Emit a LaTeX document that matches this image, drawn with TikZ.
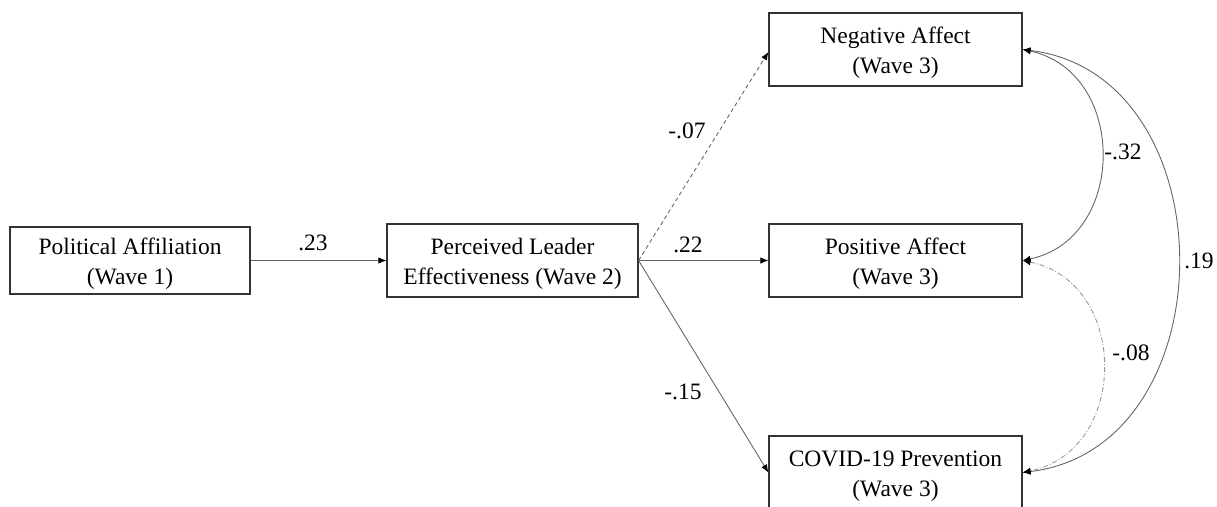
\documentclass[tikz,border=0pt]{standalone}
\usepackage{fontspec}
\setmainfont{Liberation Serif}
\usetikzlibrary{arrows.meta,calc}
\begin{document}
\begin{tikzpicture}[x=1pt,y=-1pt,
  box/.style={draw=black!80,line width=1.2pt,minimum width=253pt,minimum height=73pt,inner sep=0pt,align=center,text height=52pt,text depth=5pt,font=\fontsize{23.5}{30}\selectfont},
  lbl/.style={font=\fontsize{23.5}{28}\selectfont,inner sep=0pt},
  tip/.style={-{Latex[length=8pt,width=6.5pt,color=black]}},
  pathline/.style={draw=black!60,line width=0.9pt,tip},
  cov/.style={draw=black!60,line width=0.9pt,{Latex[length=8pt,width=6.5pt,color=black]}-{Latex[length=8pt,width=6.5pt,color=black]}},
]
\useasboundingbox (0,0) rectangle (1217,506);
\clip (0,0) rectangle (1217,506);
% nodes
\node[box,minimum width=240pt,minimum height=67pt] (pol) at (130,260.5) {Political Affiliation\\(Wave 1)};
\node[box,minimum width=251pt] (ple) at (512.5,260.5) {Perceived Leader\\Effectiveness (Wave 2)};
\node[box] (neg) at (895.5,49.5) {Negative Affect\\(Wave 3)};
\node[box] (pos) at (895.5,260.5) {Positive Affect\\(Wave 3)};
\node[box] (cov19) at (895.5,472.5) {COVID-19 Prevention\\(Wave 3)};
% paths
\draw[pathline] (pol.east) -- (ple.west);
\draw[pathline] (ple.east) -- (pos.west);
\draw[pathline,dashed,dash pattern=on 4pt off 3pt] (ple.east) -- ($(neg.west)+(0,2.5)$);
\draw[pathline] (ple.east) -- (cov19.west);
% covariances
\draw[cov] (neg.east) .. controls ($(neg.east)+(105,22)$) and ($(pos.east)+(105,-22)$) .. (pos.east);
\draw[cov] (neg.east) .. controls ($(neg.east)+(207,25)$) and ($(cov19.east)+(207,-25)$) .. (cov19.east);
\draw[cov,draw=black!40,dash pattern=on 5pt off 2pt on 1pt off 2pt] (pos.east) .. controls ($(pos.east)+(107,22)$) and ($(cov19.east)+(107,-22)$) .. (cov19.east);
% labels
\node[lbl] (l1) at (313,243) {.23};
\node[lbl] (l2) at (688,245) {.22};
\node[lbl] (l3) at (687,131) {-.07};
\node[lbl] (l4) at (683,392) {-.15};
\node[lbl] (l5) at (1123,152) {-.32};
\node[lbl] (l6) at (1199,261) {.19};
\node[lbl] (l7) at (1131,353) {-.08};
\end{tikzpicture}
\end{document}
